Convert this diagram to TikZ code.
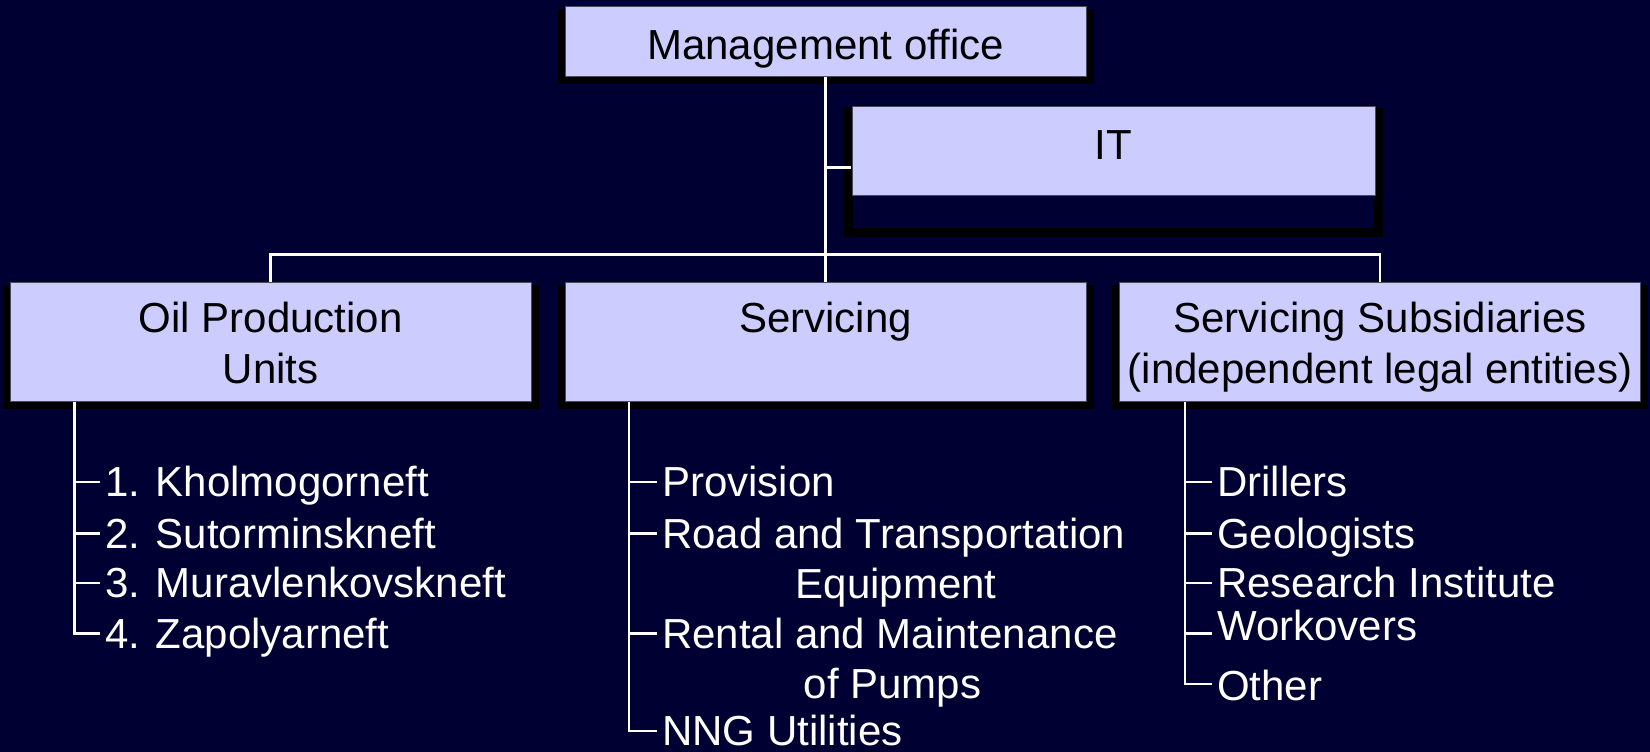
\documentclass[tikz,border=0pt]{standalone}
\usepackage{fontspec}
\setmainfont{Liberation Sans}
\usetikzlibrary{calc}
\definecolor{bgnavy}{HTML}{000033}
\definecolor{boxfill}{HTML}{CCCCFF}
\definecolor{boxline}{HTML}{4A4A5A}
\pgfdeclarelayer{under}
\pgfsetlayers{under,main}

\begin{document}
\begin{tikzpicture}[x=1pt,y=-1pt,
  box/.style={draw=boxline, line width=1pt, fill=boxfill, inner sep=0pt},
  wide/.style={box, minimum width=521pt},
  boxtext/.style={anchor=base, inner sep=0pt, text=black, font=\fontsize{42}{50.5}\selectfont},
  item/.style={anchor=base west, inner xsep=5pt, inner ysep=0pt, text=white, font=\fontsize{42}{50.5}\selectfont},
  sub/.style={anchor=base, inner sep=0pt, text=white, font=\fontsize{42}{50.5}\selectfont},
  link/.style={draw=white, line width=2.6pt},
  shade/.style={fill=black},
]
\begin{pgfonlayer}{under}
  \fill[bgnavy] (0,0) rectangle (1650,752);
\end{pgfonlayer}
\useasboundingbox (0,0) rectangle (1650,752);

% ---- boxes ----
\node[wide, minimum height=70pt] (mgmt) at (825.5,42) {};
\node[draw=black, line width=2pt, fill=bgnavy, inner sep=0pt,
      minimum width=523pt, minimum height=123pt] (itf) at (1113.5,167.5) {};
\node[box, minimum width=523pt, minimum height=89pt] (it) at (1113.5,150.5) {};
\node[wide, minimum height=119pt] (oil)  at (270.75,341.5) {};
\node[wide, minimum height=119pt] (serv) at (825.5,341.5) {};
\node[wide, minimum height=119pt] (subs) at (1380,341.5) {};

% drop shadows behind the boxes
\begin{pgfonlayer}{under}
  \foreach \b in {mgmt,itf,oil,serv,subs}
    \fill[shade] ([xshift=-7pt,yshift=-3pt]\b.north west) rectangle ([xshift=7pt,yshift=-7pt]\b.south east);
\end{pgfonlayer}

% ---- box captions ----
\node[boxtext] (mgmtT) at (825.5,59.5) {Management office};
\node[boxtext] (itT) at (1113.5,159.5) {IT};
\node[boxtext] (oilT1) at (270.75,332.5) {Oil Production};
\node[boxtext] (oilT2) at (270.75,383) {Units};
\node[boxtext] (servT) at (825.5,332.5) {Servicing};
\node[boxtext] (subsT1) at (1380,332.5) {Servicing Subsidiaries};
\node[boxtext] (subsT2) at (1380,383) {(independent legal entities)};

% ---- connectors between boxes ----
\coordinate (bus) at (0,254.6);
\draw[link] (mgmt.south) -- (serv.north);
\draw[link] (mgmt.south |- itf.west) -- (itf.west);
\draw[link] (oil.north) -- (oil.north |- bus) -- (subs.north |- bus) -- (subs.north);

% ---- Oil Production Units list ----
\node[item] (o1) at (100,496.5) {1. Kholmogorneft};
\node[item] (o2) at (100,548)   {2. Sutorminskneft};
\node[item] (o3) at (100,597.5) {3. Muravlenkovskneft};
\node[item] (o4) at (100,648)   {4. Zapolyarneft};
\coordinate (orail) at (74.7,0);
\foreach \n in {o1,o2,o3,o4}
  \coordinate (\n t) at ([yshift=14.5pt]\n.base west);
\draw[link] (oil.south -| orail) -- (orail |- o4t) -- (o4t);
\foreach \n in {o1,o2,o3}
  \draw[link] (orail |- \n t) -- (\n t);

% ---- Servicing list ----
\node[item] (s1) at (657,496.5) {Provision};
\node[item] (s2) at (657,548)   {Road and Transportation};
\node[sub]  (s2b) at ($(s2.base)+(2.5,50.5)$) {Equipment};
\node[item] (s3) at (657,648)   {Rental and Maintenance};
\node[sub]  (s3b) at ($(s3.base)+(2.5,50.5)$) {of Pumps};
\node[item] (s4) at (657,745.5) {NNG Utilities};
\coordinate (srail) at (629,0);
\foreach \n in {s1,s2,s3,s4}
  \coordinate (\n t) at ([yshift=14.5pt]\n.base west);
\draw[link] (serv.south -| srail) -- (srail |- s4t) -- (s4t);
\foreach \n in {s1,s2,s3}
  \draw[link] (srail |- \n t) -- (\n t);

% ---- Servicing Subsidiaries list ----
\node[item] (d1) at (1212,496.5) {Drillers};
\node[item] (d2) at (1212,548)   {Geologists};
\node[item] (d3) at (1212,597.5) {Research Institute};
\node[item] (d4) at (1212,640.5) {Workovers};
\node[item] (d5) at (1212,700.5) {Other};
\coordinate (drail) at (1185,0);
\coordinate (d1t) at (1212,482);
\coordinate (d2t) at (1212,533.5);
\coordinate (d3t) at (1212,583);
\coordinate (d4t) at (1212,633.5);
\coordinate (d5t) at (1212,684);
\draw[link] (subs.south -| drail) -- (drail |- d5t) -- (d5t);
\foreach \n in {d1t,d2t,d3t,d4t}
  \draw[link] (drail |- \n) -- (\n);
\end{tikzpicture}
\end{document}
